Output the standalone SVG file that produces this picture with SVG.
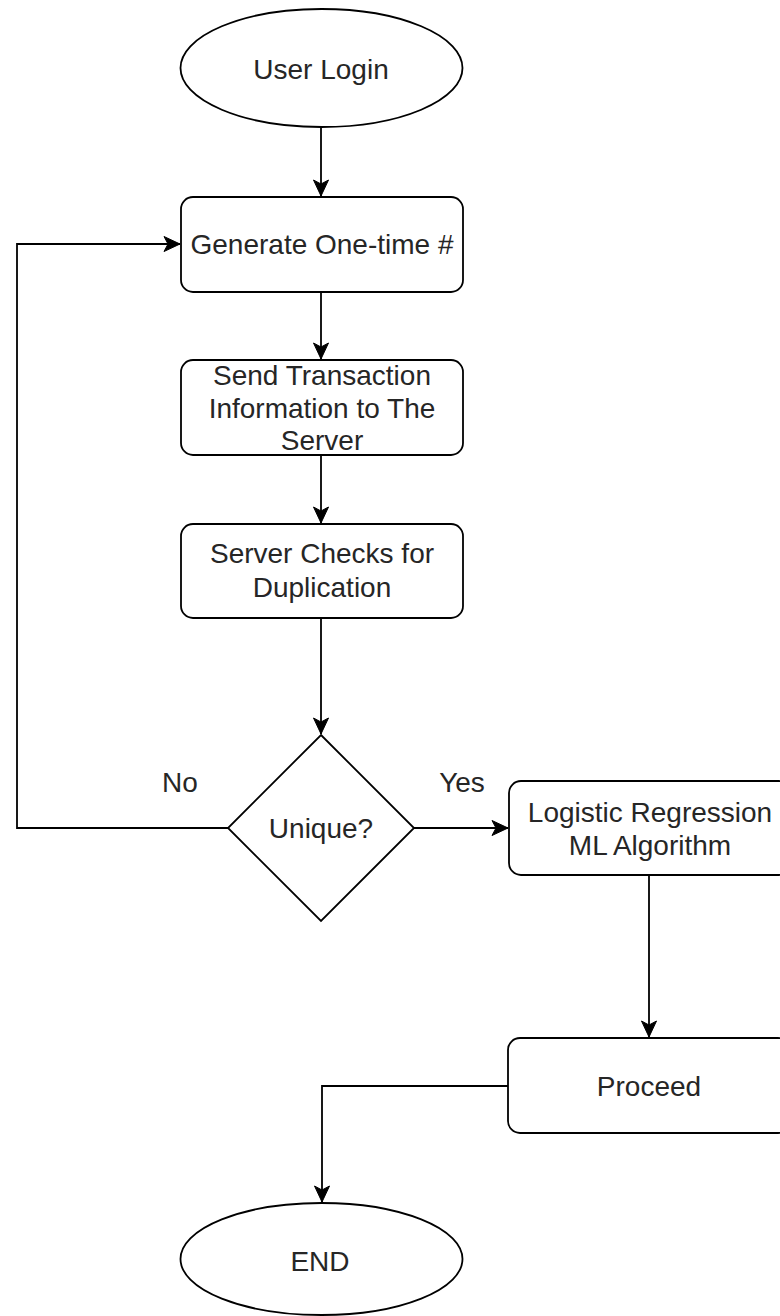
<svg xmlns="http://www.w3.org/2000/svg" width="780" height="1316" viewBox="0 0 780 1316">
<style>
.shape{fill:#fff;stroke:#000;stroke-width:1.8}
.conn{fill:none;stroke:#000;stroke-width:1.8}
.t{font-family:"Liberation Sans",Arial,sans-serif;font-size:28px;fill:#262626;text-anchor:middle}
</style>
<defs>
<marker id="arr" markerUnits="userSpaceOnUse" markerWidth="20" markerHeight="20" viewBox="0 0 20 20" refX="18" refY="10" orient="auto">
<path d="M2,2.5 L18,10 L2,17.5 L6,10 z" fill="#000" stroke="#000" stroke-width="1"/>
</marker>
</defs>
<rect width="780" height="1316" fill="#fff"/>
<g id="connectors">
<path class="conn" d="M321,127 L321,196" marker-end="url(#arr)"/>
<path class="conn" d="M321,292 L321,359" marker-end="url(#arr)"/>
<path class="conn" d="M321,455 L321,523" marker-end="url(#arr)"/>
<path class="conn" d="M321,618 L321,734" marker-end="url(#arr)"/>
<path class="conn" d="M228,828 L17,828 L17,244 L180,244" marker-end="url(#arr)"/>
<path class="conn" d="M414,828 L508,828" marker-end="url(#arr)"/>
<path class="conn" d="M649,875 L649,1037" marker-end="url(#arr)"/>
<path class="conn" d="M508,1086 L322,1086 L322,1202" marker-end="url(#arr)"/>
</g>
<g id="user-login">
<ellipse class="shape" cx="321.5" cy="68" rx="141" ry="59"/>
<text class="t" x="321" y="79">User Login</text>
</g>
<g id="generate">
<rect class="shape" x="181" y="197" width="282" height="95" rx="12"/>
<text class="t" x="322" y="254">Generate One-time #</text>
</g>
<g id="send">
<rect class="shape" x="181" y="360" width="282" height="95" rx="12"/>
<text class="t" x="322" y="385">Send Transaction</text>
<text class="t" x="322" y="418">Information to The</text>
<text class="t" x="322" y="450">Server</text>
</g>
<g id="server-checks">
<rect class="shape" x="181" y="524" width="282" height="94" rx="12"/>
<text class="t" x="322" y="563">Server Checks for</text>
<text class="t" x="322" y="597">Duplication</text>
</g>
<g id="unique">
<path class="shape" d="M321,735 L414,828 L321,921 L228,828 Z"/>
<text class="t" x="321" y="838">Unique?</text>
</g>
<g id="labels">
<text class="t" x="180" y="792">No</text>
<text class="t" x="462" y="792">Yes</text>
</g>
<g id="logistic">
<rect class="shape" x="509" y="781" width="282" height="94" rx="12"/>
<text class="t" x="650" y="822">Logistic Regression</text>
<text class="t" x="650" y="855">ML Algorithm</text>
</g>
<g id="proceed">
<rect class="shape" x="508" y="1038" width="282" height="95" rx="12"/>
<text class="t" x="649" y="1096">Proceed</text>
</g>
<g id="end">
<ellipse class="shape" cx="321.5" cy="1259" rx="141" ry="56"/>
<text class="t" x="320" y="1271">END</text>
</g>
</svg>
